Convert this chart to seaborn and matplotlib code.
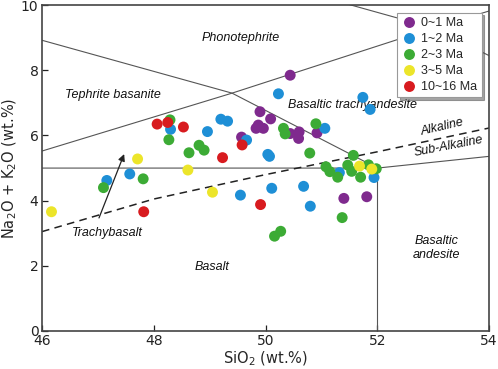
import numpy as np
import pandas as pd
import matplotlib
matplotlib.use("Agg")
import matplotlib.pyplot as plt
import seaborn as sns

# ---- data ----
groups = ["0~1 Ma", "1~2 Ma", "2~3 Ma", "3~5 Ma", "10~16 Ma"]
colors = ["#7f2a8e", "#1e8fd6", "#3cab35", "#ece52a", "#d81b1f"]

sio2_0_1 = [50.44, 49.90, 50.09, 49.87, 49.96, 49.83, 50.44, 50.60, 50.59, 50.92, 49.57, 51.40, 51.81]
alk_0_1 = [7.85, 6.73, 6.51, 6.32, 6.22, 6.22, 6.06, 6.11, 5.91, 6.08, 5.95, 4.07, 4.12]

sio2_1_2 = [47.16, 47.57, 48.30, 48.96, 49.20, 49.32, 49.66, 50.04, 50.07, 50.23, 51.74, 51.87,
            51.06, 51.32, 51.94, 50.11, 50.68, 50.80, 49.55]
alk_1_2 = [4.62, 4.82, 6.19, 6.12, 6.50, 6.44, 5.86, 5.42, 5.36, 7.28, 7.17, 6.80,
           6.22, 4.86, 4.71, 4.38, 4.44, 3.83, 4.17]

sio2_2_3 = [47.10, 47.81, 48.29, 48.27, 48.63, 48.81, 48.90, 50.32, 50.35, 50.90, 50.79, 51.57,
            51.08, 51.15, 51.29, 51.47, 51.54, 51.70, 51.84, 51.98, 51.37, 50.16, 50.27]
alk_2_3 = [4.40, 4.67, 6.48, 5.87, 5.47, 5.70, 5.55, 6.22, 6.05, 6.36, 5.46, 5.39,
           5.04, 4.89, 4.72, 5.09, 4.90, 4.72, 5.10, 4.98, 3.48, 2.91, 3.06]

sio2_3_5 = [46.17, 47.71, 48.61, 49.05, 51.68, 51.90]
alk_3_5 = [3.66, 5.28, 4.94, 4.26, 5.06, 4.97]

sio2_10_16 = [47.82, 48.06, 48.25, 48.53, 49.23, 49.58, 49.91]
alk_10_16 = [3.66, 6.35, 6.40, 6.26, 5.32, 5.71, 3.88]

# TAS boundary lines
tas_lines = [
    ([45, 49.4, 52], [9.4, 7.3, 5]),
    ([45, 49.4, 53, 57.6], [5, 7.3, 9.3, 11.7]),
    ([48.4, 53, 57], [11.5, 9.3, 5.9]),
    ([45, 52, 57], [5, 5, 5.9]),
    ([52, 52], [0, 5]),
]
# Alkaline / Sub-Alkaline divide
alk_x = [46, 48, 50, 52, 54]
alk_y = [3.05, 4.05, 4.8, 5.5, 6.23]

field_labels = [
    ("Phonotephrite", 49.55, 9.0, 0),
    ("Tephrite basanite", 47.27, 7.24, 0),
    ("Basaltic trachyandesite", 51.55, 6.93, 0),
    ("Alkaline", 53.16, 6.27, 13),
    ("Sub-Alkaline", 53.28, 5.66, 11),
    ("Trachybasalt", 47.16, 3.0, 0),
    ("Basalt", 49.04, 1.96, 0),
    ("Basaltic\nandesite", 53.05, 2.55, 0),
]

# ---- build table ----
frames = []
for g, xs, ys in zip(groups,
                     [sio2_0_1, sio2_1_2, sio2_2_3, sio2_3_5, sio2_10_16],
                     [alk_0_1, alk_1_2, alk_2_3, alk_3_5, alk_10_16]):
    frames.append(pd.DataFrame({"SiO2": xs, "Alk": ys, "Age": g}))
df = pd.concat(frames, ignore_index=True)

sns.set_style("ticks")
plt.rcParams["font.family"] = ["DejaVu Sans"]

fig = plt.figure(figsize=(4.98, 3.69), dpi=100)
ax = fig.add_axes([0.0843, 0.103, 0.898, 0.883])

line_col = "#555555"
for xs, ys in tas_lines:
    ax.plot(xs, ys, color=line_col, lw=0.8, zorder=1)
ax.plot(alk_x, alk_y, color="#222222", lw=1.1, ls=(0, (5, 3.5)), zorder=1)

sns.scatterplot(data=df, x="SiO2", y="Alk", hue="Age", hue_order=groups,
                palette=colors, s=62, edgecolor="none", linewidth=0,
                alpha=1, ax=ax, zorder=3)

for txt, x, y, rot in field_labels:
    ax.text(x, y, txt, ha="center", va="center", rotation=rot,
            fontsize=9, style="italic", family="Liberation Sans",
            color="#111111", zorder=2, linespacing=1.2)

ax.annotate("", xy=(47.47, 5.43), xytext=(47.02, 3.47),
            arrowprops=dict(arrowstyle="-|>", color="#222222", lw=0.9,
                            mutation_scale=10, shrinkA=0, shrinkB=0),
            zorder=2)

ax.set_xlim(46, 54)
ax.set_ylim(0, 10)
ax.set_xticks([46, 48, 50, 52, 54])
ax.set_yticks([0, 2, 4, 6, 8, 10])
ax.tick_params(direction="in", length=4, width=0.9, labelsize=10, colors="#222222", pad=2.5)
for sp in ax.spines.values():
    sp.set_color("#444444")
    sp.set_linewidth(1.2)

ax.set_xlabel("SiO$_2$ (wt.%)", fontsize=10.5, labelpad=1)
ax.set_ylabel("Na$_2$O + K$_2$O (wt.%)", fontsize=10.5, labelpad=1.5)

leg = ax.legend(loc="upper right", frameon=True, shadow=True, fancybox=False,
                prop={"family": "Liberation Sans", "size": 9},
                borderaxespad=0.6, handletextpad=0.4, labelspacing=0.32,
                borderpad=0.35, handlelength=1.2, markerscale=1.0)
leg.get_frame().set_edgecolor("#999999")
leg.get_frame().set_linewidth(0.8)
leg.set_zorder(5)

fig.savefig("out.png", dpi=100)
